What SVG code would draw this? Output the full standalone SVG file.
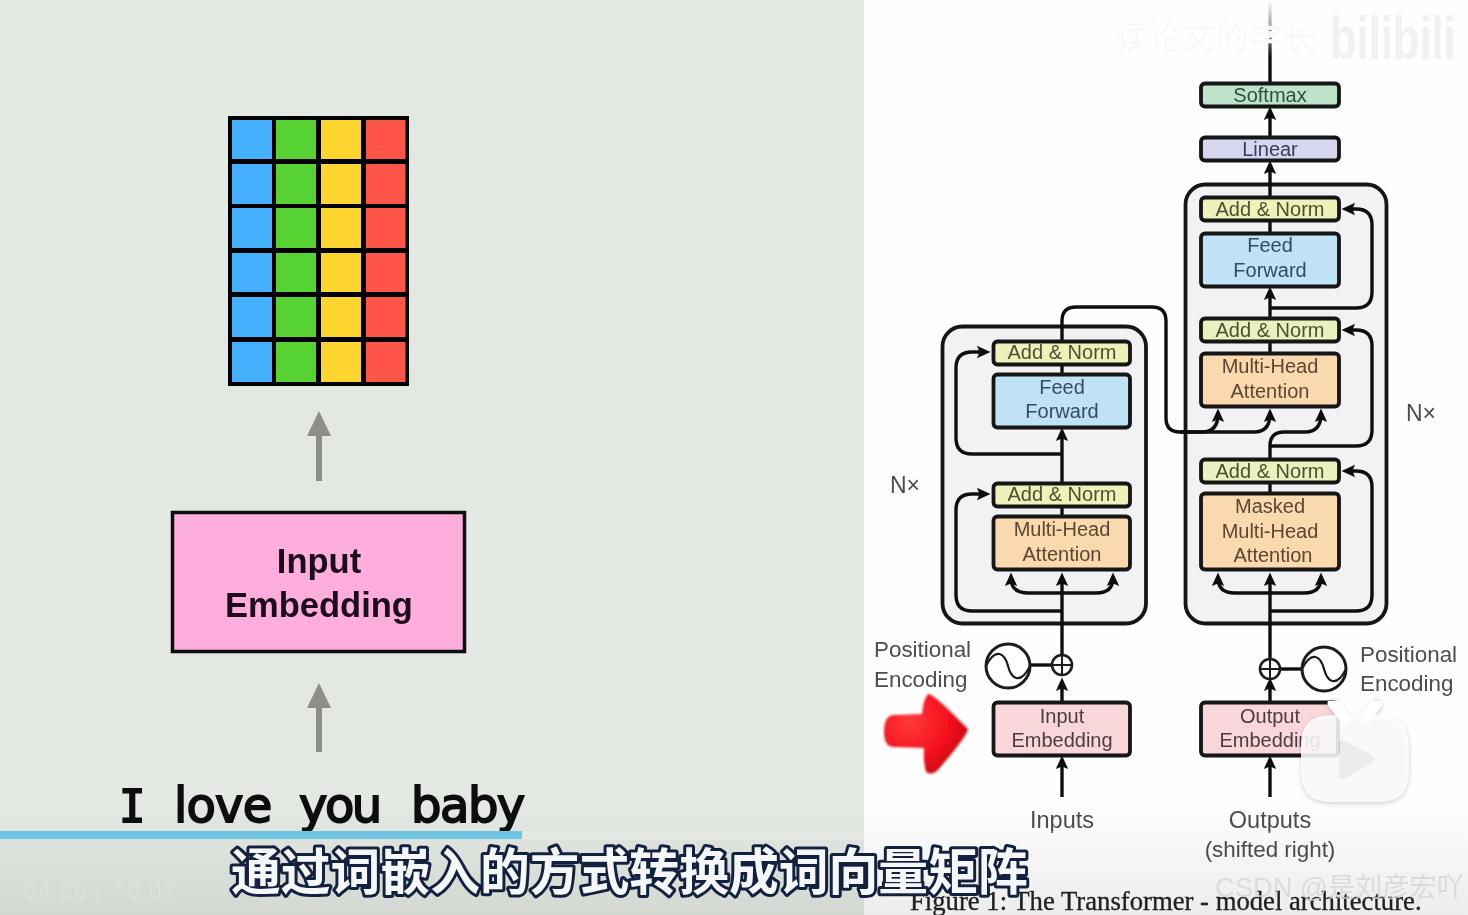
<svg xmlns="http://www.w3.org/2000/svg" width="1468" height="915" viewBox="0 0 1468 915">
<style>
.t{font-family:"Liberation Sans",Arial,sans-serif;font-size:20px;text-anchor:middle}
.lab{font-family:"Liberation Sans",Arial,sans-serif;font-size:22.400px;fill:#4d4d4d}
.box{stroke:#141414;stroke-width:3.800}
.an{fill:#eef2ba}.ff{fill:#bfe3f5}.mh{fill:#fbd9ae}.em{fill:#f9d6da}
.tan{fill:#4c5030}.tff{fill:#2f4d60}.tmh{fill:#5c4632}.tem{fill:#4c3c40}
.c{fill:none;stroke:#111;stroke-width:3.400}
.a{marker-end:url(#ah)}
.cell{stroke:none}
.gr{fill:#8b8f88}
</style>
<defs>
<marker id="ah" markerUnits="userSpaceOnUse" markerWidth="14" markerHeight="14" viewBox="0 0 14 14" refX="8" refY="7" orient="auto">
<path d="M0 .8 L13.500 7 L0 13.200 L2.500 7Z" fill="#111"/>
</marker>
<linearGradient id="topfade" gradientUnits="userSpaceOnUse" x1="0" y1="0" x2="0" y2="82">
<stop offset="0" stop-color="#111" stop-opacity="0"/><stop offset=".35" stop-color="#111" stop-opacity=".4"/><stop offset=".7" stop-color="#111"/>
</linearGradient>
<linearGradient id="bot" x1="0" y1="0" x2="0" y2="1">
<stop offset="0" stop-color="#000" stop-opacity="0"/><stop offset="1" stop-color="#000" stop-opacity=".07"/>
</linearGradient>
<radialGradient id="red" cx=".3" cy=".35" r=".8">
<stop offset="0" stop-color="#ff3a3a"/><stop offset=".6" stop-color="#f4101c"/><stop offset="1" stop-color="#b80a14"/>
</radialGradient>
<filter id="soft" x="-2%" y="-2%" width="104%" height="104%"><feGaussianBlur stdDeviation="0.45"/></filter>
<filter id="soft2" x="-5%" y="-5%" width="110%" height="110%"><feGaussianBlur stdDeviation="1"/></filter>
<filter id="shadow" x="-20%" y="-20%" width="140%" height="140%"><feGaussianBlur stdDeviation="2.500"/></filter>
</defs>

<rect width="864" height="915" fill="#e4e8e2"/>
<rect x="864" width="604" height="915" fill="#fefefe"/>

<g filter="url(#soft)">
<g id="word-matrix">
<rect x="228" y="116" width="181" height="270" fill="#050505"/>
<g class="cell" fill="#45b0fd"><rect x="232" y="120" width="40" height="39"/><rect x="232" y="164" width="40" height="40"/><rect x="232" y="208" width="40" height="40"/><rect x="232" y="253" width="40" height="39"/><rect x="232" y="297" width="40" height="40"/><rect x="232" y="342" width="40" height="40"/></g>
<g class="cell" fill="#56d332"><rect x="276" y="120" width="40" height="39"/><rect x="276" y="164" width="40" height="40"/><rect x="276" y="208" width="40" height="40"/><rect x="276" y="253" width="40" height="39"/><rect x="276" y="297" width="40" height="40"/><rect x="276" y="342" width="40" height="40"/></g>
<g class="cell" fill="#fed52d"><rect x="321" y="120" width="40" height="39"/><rect x="321" y="164" width="40" height="40"/><rect x="321" y="208" width="40" height="40"/><rect x="321" y="253" width="40" height="39"/><rect x="321" y="297" width="40" height="40"/><rect x="321" y="342" width="40" height="40"/></g>
<g class="cell" fill="#fe5548"><rect x="366" y="120" width="39.500" height="39"/><rect x="366" y="164" width="39.500" height="40"/><rect x="366" y="208" width="39.500" height="40"/><rect x="366" y="253" width="39.500" height="39"/><rect x="366" y="297" width="39.500" height="40"/><rect x="366" y="342" width="39.500" height="40"/></g>
</g>
<g id="left-arrows">
<path class="gr" d="M319 411 L331 436 L322 436 L322 481 L316 481 L316 436 L307 436Z"/>
<path class="gr" d="M319 683 L331 708 L322 708 L322 752 L316 752 L316 708 L307 708Z"/>
</g>
<g id="left-input-embedding">
<rect x="172.500" y="512.500" width="292" height="139" fill="#fdaedd" stroke="#0c0c0c" stroke-width="3.500"/>
<text x="319" y="573" font-family="Liberation Sans,Arial,sans-serif" font-size="34.500" font-weight="bold" text-anchor="middle" fill="#1e0a1c">Input</text>
<text x="319" y="617" font-family="Liberation Sans,Arial,sans-serif" font-size="34.500" font-weight="bold" text-anchor="middle" fill="#1e0a1c">Embedding</text>
</g>
<g id="sentence">
<text y="822" font-family="DejaVu Sans,sans-serif" font-size="48" fill="#0a0a0a" stroke="#0a0a0a" stroke-width="1.800"><tspan x="119" font-family="DejaVu Sans Mono,monospace" font-size="44">I</tspan><tspan x="174" letter-spacing="-.8">love</tspan><tspan x="299" letter-spacing="-2.500">you</tspan><tspan x="411" letter-spacing="-1.500">baby</tspan></text>
</g>

<g id="containers">
<rect x="942.500" y="326.500" width="203.500" height="297" rx="20" fill="#f2f2f5" stroke="#141414" stroke-width="3.800"/>
<rect x="1185.500" y="184.500" width="201" height="439" rx="20" fill="#f2f2f5" stroke="#141414" stroke-width="3.800"/>
</g>

<g id="connectors">
<path d="M1270 82V0" fill="none" stroke="url(#topfade)" stroke-width="3.400"/>
<path class="c a" d="M1062 797V761"/>
<path class="c a" d="M1270 797V761"/>
<path class="c a" d="M1062 701V683"/>
<path class="c a" d="M1270 701V683"/>
<path class="c a" d="M1062 655V578"/>
<path class="c a" d="M1270 659V578"/>
<path class="c" d="M1030 665H1052"/>
<path class="c" d="M1280 669H1302"/>
<path class="c a" d="M1062 611H972Q956 611 956 595V510Q956 494 972 494H985"/>
<path class="c a" d="M1062 593H1028Q1011 593 1011 578"/>
<path class="c a" d="M1062 593H1096Q1113 593 1113 578"/>
<path class="c" d="M1062 515V507"/>
<path class="c a" d="M1062 482V433"/>
<path class="c a" d="M1062 454H972Q956 454 956 438V368Q956 352 972 352H985"/>
<path class="c" d="M1062 373V365"/>
<path class="c" d="M1062 340V321Q1062 307 1076 307H1152Q1166 307 1166 321V418Q1166 432 1180 432"/>
<path class="c a" d="M1180 432H1202Q1218 432 1218 414"/>
<path class="c a" d="M1180 432H1254Q1270 432 1270 414"/>
<path class="c a" d="M1270 458V446Q1270 432 1284 432H1305Q1321 432 1321 414"/>
<path class="c a" d="M1270 446H1356Q1372 446 1372 430V346Q1372 330 1356 330H1347"/>
<path class="c a" d="M1270 611H1356Q1372 611 1372 595V487Q1372 471 1356 471H1347"/>
<path class="c a" d="M1270 593H1235Q1218 593 1218 578"/>
<path class="c a" d="M1270 593H1304Q1321 593 1321 578"/>
<path class="c" d="M1270 492V484"/>
<path class="c" d="M1270 352V343"/>
<path class="c a" d="M1270 317V292"/>
<path class="c a" d="M1270 308H1356Q1372 308 1372 292V225Q1372 209 1356 209H1347"/>
<path class="c" d="M1270 232V222"/>
<path class="c a" d="M1270 196V166"/>
<path class="c a" d="M1270 136V112"/>
</g>

<g id="softmax"><rect class="box" x="1201" y="83.500" width="138" height="23" rx="4" fill="#bfe3c8"/><text class="t" x="1270" y="102" fill="#2e5040">Softmax</text></g>
<g id="linear"><rect class="box" x="1201" y="137.500" width="138" height="23" rx="4" fill="#d6d6ef"/><text class="t" x="1270" y="156" fill="#3a3a5c">Linear</text></g>
<g id="dec-addnorm-3"><rect class="box an" x="1201" y="197.500" width="138" height="23" rx="4"/><text class="t tan" x="1270" y="216">Add &amp; Norm</text></g>
<g id="dec-feedforward"><rect class="box ff" x="1201" y="233.500" width="138" height="53" rx="4"/><text class="t tff" x="1270" y="252">Feed</text><text class="t tff" x="1270" y="277">Forward</text></g>
<g id="dec-addnorm-2"><rect class="box" x="1201" y="318.500" width="138" height="23" rx="4" fill="#e8f2bf"/><text class="t tan" x="1270" y="337">Add &amp; Norm</text></g>
<g id="dec-attention"><rect class="box mh" x="1201" y="353.500" width="138" height="53" rx="4"/><text class="t tmh" x="1270" y="373">Multi-Head</text><text class="t tmh" x="1270" y="398">Attention</text></g>
<g id="dec-addnorm-1"><rect class="box" x="1201" y="459.500" width="138" height="23" rx="4" fill="#e8f2bf"/><text class="t tan" x="1270" y="478">Add &amp; Norm</text></g>
<g id="dec-masked"><rect class="box mh" x="1201" y="493.500" width="138" height="76" rx="4"/><text class="t tmh" x="1270" y="513">Masked</text><text class="t tmh" x="1270" y="538">Multi-Head</text><text class="t tmh" x="1273" y="562">Attention</text></g>

<g id="enc-addnorm-2"><rect class="box an" x="993.500" y="341.500" width="136.500" height="23" rx="4"/><text class="t tan" x="1062" y="359">Add &amp; Norm</text></g>
<g id="enc-feedforward"><rect class="box ff" x="993.500" y="374.500" width="136.500" height="53" rx="4"/><text class="t tff" x="1062" y="394">Feed</text><text class="t tff" x="1062" y="418">Forward</text></g>
<g id="enc-addnorm-1"><rect class="box an" x="993.500" y="483.500" width="136.500" height="23" rx="4"/><text class="t tan" x="1062" y="501">Add &amp; Norm</text></g>
<g id="enc-attention"><rect class="box mh" x="993.500" y="516.500" width="136.500" height="53" rx="4"/><text class="t tmh" x="1062" y="536">Multi-Head</text><text class="t tmh" x="1062" y="561">Attention</text></g>

<g id="enc-input-embedding"><rect class="box em" x="993.500" y="702.500" width="136.500" height="53" rx="4"/><text class="t tem" x="1062" y="723">Input</text><text class="t tem" x="1062" y="747">Embedding</text></g>
<g id="dec-output-embedding"><rect class="box em" x="1201" y="702.500" width="137" height="53" rx="4"/><text class="t tem" x="1270" y="723">Output</text><text class="t tem" x="1270" y="747">Embedding</text></g>

<g id="enc-pos-add"><circle cx="1062" cy="665" r="10" fill="#fff" stroke="#1c1c1c" stroke-width="2.600"/><path d="M1062 655V675M1052 665H1072" stroke="#1c1c1c" stroke-width="2" fill="none"/></g>
<g id="dec-pos-add"><circle cx="1270" cy="669" r="10" fill="#fff" stroke="#1c1c1c" stroke-width="2.600"/><path d="M1270 659V679M1260 669H1280" stroke="#1c1c1c" stroke-width="2" fill="none"/></g>
<g id="enc-pos-wave"><circle cx="1008" cy="666" r="22" fill="#fff" stroke="#1c1c1c" stroke-width="3"/><path d="M986 666C996 646 1005 654 1008 666S1020 686 1030 666" fill="none" stroke="#1c1c1c" stroke-width="2.200"/></g>
<g id="dec-pos-wave"><circle cx="1324" cy="669" r="22" fill="#fff" stroke="#1c1c1c" stroke-width="3"/><path d="M1302 669C1312 649 1321 657 1324 669S1336 689 1346 669" fill="none" stroke="#1c1c1c" stroke-width="2.200"/></g>

<g id="labels">
<text class="lab" x="874" y="657">Positional</text>
<text class="lab" x="874" y="687">Encoding</text>
<text class="lab" x="1360" y="662">Positional</text>
<text class="lab" x="1360" y="691">Encoding</text>
<text class="lab" x="1062" y="828" text-anchor="middle" style="font-size:23.500px">Inputs</text>
<text class="lab" x="1270" y="828" text-anchor="middle" style="font-size:23.500px">Outputs</text>
<text class="lab" x="1270" y="857" text-anchor="middle">(shifted right)</text>
<text class="lab" x="890" y="493" style="font-size:23px">N×</text>
<text class="lab" x="1406" y="421" style="font-size:23px">N×</text>
<text x="910" y="910" font-family="Liberation Serif,serif" font-size="26.700" fill="#222" stroke="#222" stroke-width=".3">Figure 1: The Transformer - model architecture.</text>
</g>
</g>

<g id="red-arrow" filter="url(#soft2)">
<path d="M893 715 L922 714 Q923 700 928 694 Q932 692 968 729 Q968 735 938 770 Q932 776 926 772 Q923 760 924 748 L893 747 Q884 746 884 732 Q884 716 893 715Z" fill="url(#red)"/>
</g>

<g id="bottom-overlay">
<rect y="800" width="1468" height="115" fill="url(#bot)"/>
<rect x="522" y="831" width="946" height="8" fill="#fff" opacity=".18"/>
<rect y="831" width="522" height="8" fill="#6ec6e4"/>
<text x="23" y="899" font-family="Roboto,Liberation Sans,sans-serif" font-size="24" fill="#fff" opacity=".13" letter-spacing="1">04:26  /  10:07</text>
<text x="1215" y="897" font-family="Liberation Sans,Noto Sans CJK SC,sans-serif" font-size="27.300" fill="#d4d4d4" opacity=".75">CSDN @是刘彦宏吖</text>
</g>

<g id="subtitle">
<text x="231" y="890" font-family="Noto Sans CJK SC,sans-serif" font-size="49.800" font-weight="700" fill="#f4f6f8" stroke="#13213f" stroke-width="6" stroke-linejoin="round" paint-order="stroke">通过词嵌入的方式转换成词向量矩阵</text>
</g>

<g id="watermark" filter="url(#soft)">
<text x="1115" y="49" font-family="Noto Sans CJK SC,sans-serif" font-size="33.500" fill="#f8f8f8" stroke="#fff" stroke-width="1.500" paint-order="stroke">读论文的学长</text>
<text transform="translate(1330 59) scale(1 1.41)" font-family="Liberation Sans,sans-serif" font-size="43.500" font-weight="bold" fill="#f1f1f1">bilibili</text>
</g>

<g id="player-icon">
<g opacity=".16" filter="url(#shadow)">
<path fill="#000" d="M1334 717H1376C1400 717 1409 726 1409 750V771C1409 795 1400 804 1376 804H1334C1310 804 1301 795 1301 771V750C1301 726 1310 717 1334 717Z"/>
<path d="M1345 720L1333 705M1365 720L1377 705" stroke="#000" stroke-width="11" stroke-linecap="round" fill="none"/>
</g>
<g filter="url(#soft)">
<path fill="#fff" opacity=".86" fill-rule="evenodd" d="M1334 715H1376C1400 715 1409 724 1409 748V769C1409 793 1400 802 1376 802H1334C1310 802 1301 793 1301 769V748C1301 724 1310 715 1334 715ZM1344 741Q1339 739 1339 746V773Q1339 781 1346 778L1371 763Q1378 759 1371 755Z"/>
<path fill="#f2f2f2" opacity=".8" d="M1344 741Q1339 739 1339 746V773Q1339 781 1346 778L1371 763Q1378 759 1371 755Z"/>
<path d="M1345 718L1333 703M1365 718L1377 703" stroke="#fff" stroke-width="11" stroke-linecap="round" fill="none"/>
</g>
</g>
</svg>
